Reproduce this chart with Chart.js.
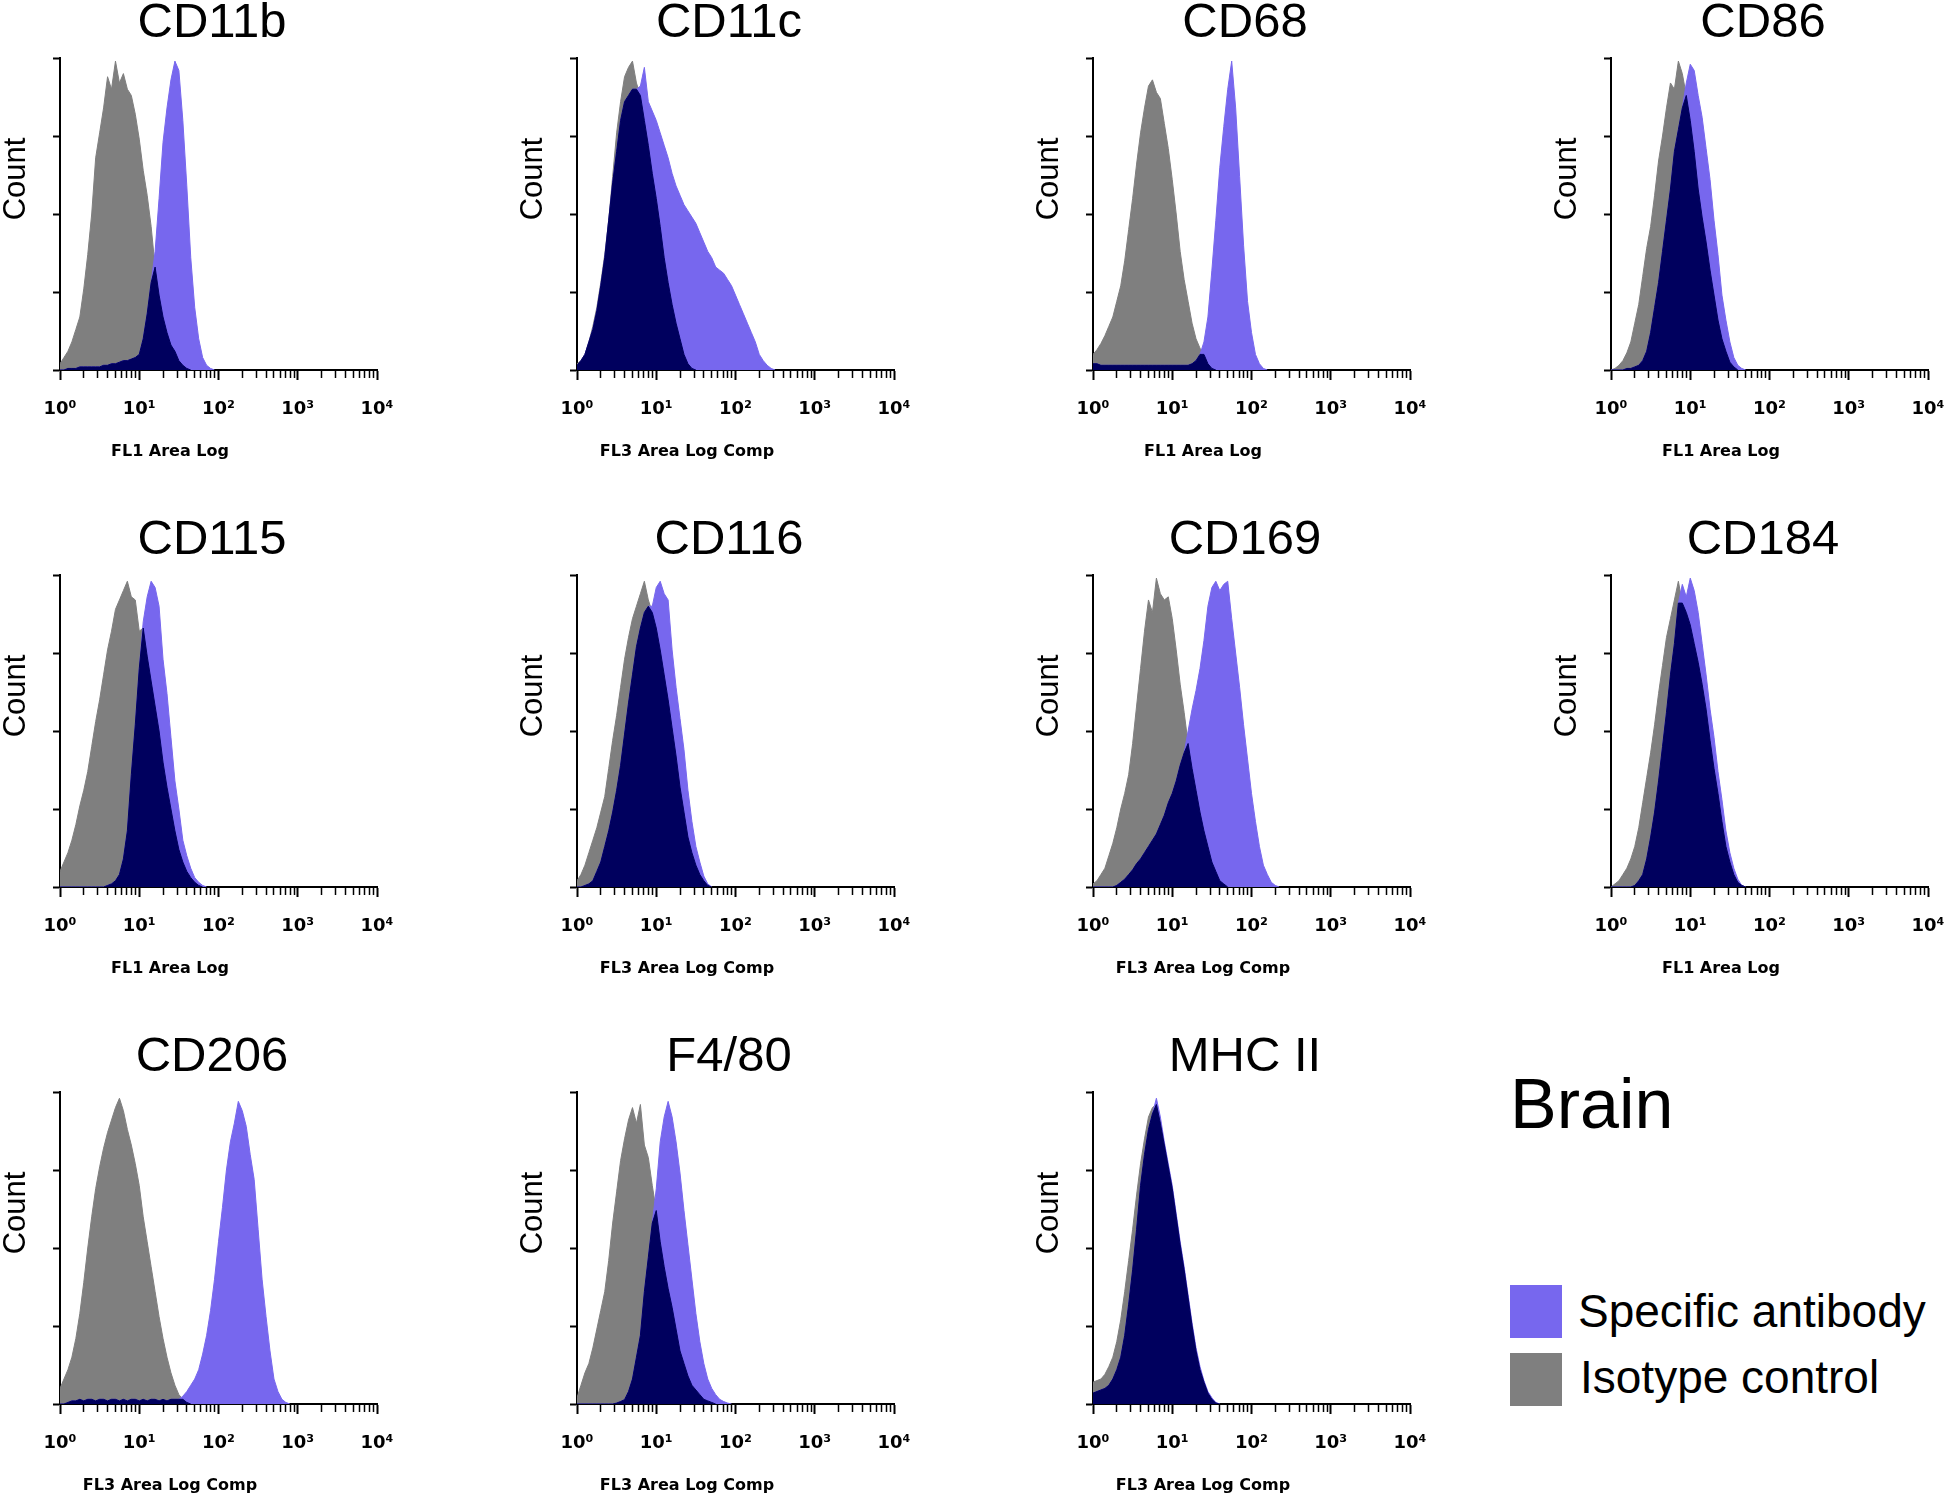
<!DOCTYPE html>
<html>
<head>
    <script src="https://cdn.jsdelivr.net/npm/chart.js@4.4.1/dist/chart.umd.min.js"></script>
    <style>
        body { margin: 0; background: #fff; width: 1946px; height: 1498px; position: relative; overflow: hidden; }
        .panel { position: absolute; width: 407px; height: 470px; }
        .txt { position: absolute; font-family: "Liberation Sans", Arial, sans-serif; color: #000; white-space: nowrap; }
        .swatch { position: absolute; width: 52px; height: 53px; }
    </style>
</head>
<body>

    <div class="txt" style="left:1510px; top:1069px; font-size:70px; line-height:70px;">Brain</div>
    <div class="swatch" style="left:1510px; top:1285px; background:#7767ee;"></div>
    <div class="swatch" style="left:1510px; top:1353px; background:#7f7f7f;"></div>
    <div class="txt" style="left:1578px; top:1288px; font-size:46px; line-height:46px;">Specific antibody</div>
    <div class="txt" style="left:1580px; top:1354px; font-size:46px; line-height:46px;">Isotype control</div>

    <script type="text/javascript">
        // histogram bins are 0.05 decade wide, starting at 10^0
        const binStep = 0.05;
        const xTickLabels = ['10\u2070', '10\u00b9', '10\u00b2', '10\u00b3', '10\u2074'];

        // counts in % of the panel max
        const cd11bIso  = [2,4,6,9,13,17,26,37,50,68,76,84,94,90,99,92,95,90,88,82,74,64,56,46,33,24,17,12,8,6,3,1.5,0.5,0];
        const cd11bSpec = [0,0,0.5,0.5,0.5,1,1,1,1,1,1,1.5,1.5,2,2,2.5,3,3,3.5,4,5,10,18,28,38,55,73,84,93,99,96,80,59,36,20,10,4,1.5,0.5,0];

        const cd11cIso  = [2,3,5,9,14,20,28,37,48,62,76,86,94,97,99,92,88,80,72,63,55,46,36,28,21,15,10,5,2,0.5,0];
        const cd11cSpec = [1.5,3,5,9,13,19,27,36,48,60,70,80,86,88,90,90,91,97,86,83,80,76,72,68,63,59,56,53,51,49,47,44,41,38,36,33,32,31,29,27,24,21,18,15,12,9,5,3,1.5,0.5,0];

        const cd68Iso   = [5,6.5,8.5,11,14,17,22,27,35,45,55,66,76,84,91,93,89,87,79,71,61,50,38,29,22,15,10,7,5,2,0.5,0];
        const cd68Spec  = [2,2,1.5,1.5,1.5,1.5,1.5,1.5,1.5,1.5,1.5,1.5,1.5,1.5,1.5,1.5,1.5,1.5,1.5,1.5,1.5,1.5,1.5,1.5,1.5,2,3,5,9,17,32,48,65,78,90,99,84,62,40,22,12,5,2,0.5,0];

        const cd86Iso   = [0,0.5,1.5,3,5.5,9,15,21,30,39,46,56,67,75,84,92,90,99,95,88,80,70,58,49,41,32,24,16,10,6,2.5,1,0];
        const cd86Spec  = [0,0,0,0,0.5,0.5,1,1.5,3,6,12,20,28,38,48,58,70,77,84,92,98,96,88,81,71,61,48,37,24,16,9,4,1.5,0.5,0];

        const cd115Iso  = [5,8,11,15,20,26,31,37,45,53,60,68,76,82,89,92,95,98,93,92,82,83,74,66,58,50,40,32,25,18,12,8,5,3,1.5,0.5,0];
        const cd115Spec = [0,0,0,0,0,0,0,0,0,0,0,0,0.5,1,2,4,9,18,36,52,70,85,93,98,96,90,73,62,48,34,25,15,10,6,3,1.5,0.5,0];

        const cd116Iso  = [2,4,7,11,15,19,24,29,38,47,55,64,73,80,86,90,94,98,92,88,83,76,68,60,51,42,32,24,16,11,7,4,2,0.5,0];
        const cd116Spec = [0,0,0.5,1,2,5,8,13,18,24,31,39,49,59,68,77,83,88,90,90,96,98,94,92,76,64,54,44,31,21,13,8,3.5,1,0];

        const cd169Iso  = [1,2,4,6,10,14,19,25,30,36,46,58,70,82,92,88,99,94,92,93,86,76,65,56,46,38,31,24,18,13,8,5,2,1,0];
        const cd169Spec = [0,0,0,0,0,0,0.5,1.5,2.5,4,5.5,7.5,9,11,13,15,17,20,23,27,30,34,39,43,50,57,63,70,79,90,96,98,95,97,98,86,75,64,52,41,30,21,13,7,4,1.5,0.5,0];

        const cd184Iso  = [0,1,2,4,6,9,13,19,27,35,43,52,62,71,80,86,92,98,91,88,84,78,72,65,57,47,38,30,21,13,8,4,1.5,0.5,0];
        const cd184Spec = [0,0,0,0,0,0,0.5,2,4,9,16,24,34,45,56,68,78,91,97,93,99,95,88,78,68,57,48,37,28,18,11,6,2.5,0.5,0];

        const cd206Iso  = [5,8,11,15,21,29,39,50,60,69,76,82,87,91,95,98,94,88,83,77,70,60,52,44,36,28,21,15,10,6,3,1.5,0.5,0];
        const cd206Spec = [0,0,0.5,1,1,1.5,1,1.5,1.5,1,1.5,1.5,1,1.5,1.5,1,1.5,1,1.5,1.5,1,1.5,1,1.5,1.5,1,1.5,1,1.5,1.5,1.5,2.5,4,6,8,11,16,22,30,40,52,63,75,84,90,97,94,89,80,72,56,40,28,17,8,4,1.5,0.5,0];

        const f480Iso   = [2,6,10,13,18,24,30,36,46,58,68,78,85,91,95,90,96,83,79,70,62,52,44,37,31,24,17,13,9,6,4.5,3,1.5,1,0.5,0];
        const f480Spec  = [0,0,0,0,0,0,0,0,0,0,0.3,0.8,1.4,4,8,15,22,36,47,58,69,84,92,97,92,84,74,62,51,40,29,20,13,8,5,3,1.5,0.8,0.3,0];

        const mhc2Iso   = [7,7.5,8,9.5,12,15,20,27,36,46,56,67,77,85,92,95,96,90,83,76,69,60,51,43,34,25,17,11,7,3.5,1.5,0.3,0];
        const mhc2Spec  = [3.5,4,4.5,5,6,8,11,15,22,32,43,56,70,80,88,93,98,92,84,77,70,61,52,44,35,26,18,12,7.5,4,2,0.5,0];

        const panels = [
            { title: 'CD11b',  xLabel: 'FL1 Area Log',      iso: cd11bIso, spec: cd11bSpec, col: 0, row: 0 },
            { title: 'CD11c',  xLabel: 'FL3 Area Log Comp', iso: cd11cIso, spec: cd11cSpec, col: 1, row: 0 },
            { title: 'CD68',   xLabel: 'FL1 Area Log',      iso: cd68Iso,  spec: cd68Spec,  col: 2, row: 0 },
            { title: 'CD86',   xLabel: 'FL1 Area Log',      iso: cd86Iso,  spec: cd86Spec,  col: 3, row: 0 },
            { title: 'CD115',  xLabel: 'FL1 Area Log',      iso: cd115Iso, spec: cd115Spec, col: 0, row: 1 },
            { title: 'CD116',  xLabel: 'FL3 Area Log Comp', iso: cd116Iso, spec: cd116Spec, col: 1, row: 1 },
            { title: 'CD169',  xLabel: 'FL3 Area Log Comp', iso: cd169Iso, spec: cd169Spec, col: 2, row: 1 },
            { title: 'CD184',  xLabel: 'FL1 Area Log',      iso: cd184Iso, spec: cd184Spec, col: 3, row: 1 },
            { title: 'CD206',  xLabel: 'FL3 Area Log Comp', iso: cd206Iso, spec: cd206Spec, col: 0, row: 2 },
            { title: 'F4/80',  xLabel: 'FL3 Area Log Comp', iso: f480Iso,  spec: f480Spec,  col: 1, row: 2 },
            { title: 'MHC II', xLabel: 'FL3 Area Log Comp', iso: mhc2Iso,  spec: mhc2Spec,  col: 2, row: 2 }
        ];

        const colAxisX = [60, 577, 1093, 1611];
        const rowTop = [58, 575, 1092];

        const specColor = '#7767ee';
        const isoColor = '#7f7f7f';
        const bothColor = '#00005e';

        // minor ticks at 2..9 of every decade
        const xTickValues = [];
        for (let e = 0; e < 4; e++) {
            for (let m = 1; m < 10; m++) xTickValues.push(m * Math.pow(10, e));
        }
        xTickValues.push(10000);

        function isDecade(v) {
            const l = Math.log10(v);
            return Math.abs(l - Math.round(l)) < 1e-9;
        }

        function toPoints(vals) {
            return vals.map((v, i) => ({ x: Math.pow(10, i * binStep), y: v }));
        }

        // where both histograms overlap the plot shows navy
        function overlap(a, b) {
            const n = Math.min(a.length, b.length);
            const out = [];
            for (let i = 0; i < n; i++) out.push(Math.min(a[i], b[i]));
            return out;
        }

        const panelText = {
            id: 'panelText',
            afterDraw(chart, args, opts) {
                const ctx = chart.ctx;
                const a = chart.chartArea;
                ctx.save();
                ctx.fillStyle = '#000';
                ctx.textAlign = 'center';
                ctx.textBaseline = 'middle';
                ctx.font = '49px "Liberation Sans", Arial, sans-serif';
                ctx.fillText(opts.title, a.left + 152, a.top - 35);
                ctx.font = 'bold 16px "DejaVu Sans", Verdana, sans-serif';
                ctx.fillText(opts.xLabel, a.left + 110, a.bottom + 82);
                ctx.translate(a.left - 44, a.top + 121);
                ctx.rotate(-Math.PI / 2);
                ctx.font = '31px "Liberation Sans", Arial, sans-serif';
                ctx.fillText('Count', 0, 0);
                ctx.restore();
            }
        };

        function makeDataset(vals, color, order) {
            return {
                data: toPoints(vals),
                backgroundColor: color,
                borderColor: color,
                borderWidth: 1,
                pointRadius: 0,
                tension: 0,
                fill: 'origin',
                order: order
            };
        }

        panels.forEach(p => {
            const div = document.createElement('div');
            div.className = 'panel';
            div.style.left = (colAxisX[p.col] - 60) + 'px';
            div.style.top = (rowTop[p.row] - 58) + 'px';
            const canvas = document.createElement('canvas');
            canvas.width = 407;
            canvas.height = 470;
            div.appendChild(canvas);
            document.body.appendChild(div);

            new Chart(canvas, {
                type: 'line',
                data: {
                    datasets: [
                        makeDataset(overlap(p.iso, p.spec), bothColor, 0),
                        makeDataset(p.spec, specColor, 1),
                        makeDataset(p.iso, isoColor, 2)
                    ]
                },
                options: {
                    responsive: false,
                    animation: false,
                    devicePixelRatio: 1,
                    layout: { padding: { top: 58, right: 30, left: 0, bottom: 0 } },
                    plugins: {
                        legend: { display: false },
                        tooltip: { enabled: false },
                        panelText: { title: p.title, xLabel: p.xLabel }
                    },
                    scales: {
                        x: {
                            type: 'logarithmic',
                            min: 1,
                            max: 10000,
                            afterFit: s => { s.height = 100; s.paddingLeft = 0; s.paddingRight = 0; },
                            afterBuildTicks: s => { s.ticks = xTickValues.map(v => ({ value: v, major: isDecade(v) })); },
                            border: { color: '#000', width: 2 },
                            grid: {
                                drawOnChartArea: false,
                                tickLength: 10,
                                tickColor: '#000',
                                tickWidth: ctx => isDecade(ctx.tick.value) ? 2 : 1.5,
                                tickBorderDash: ctx => isDecade(ctx.tick.value) ? [] : [7, 40]
                            },
                            ticks: {
                                autoSkip: false,
                                maxRotation: 0,
                                padding: 19,
                                color: '#000',
                                font: { family: '"DejaVu Sans", Verdana, sans-serif', size: 18, weight: 'bold' },
                                callback: v => isDecade(v) ? xTickLabels[Math.round(Math.log10(v))] : ''
                            }
                        },
                        y: {
                            min: 0,
                            max: 100,
                            afterFit: s => { s.width = 60; },
                            border: { color: '#000', width: 2 },
                            grid: { drawOnChartArea: false, tickLength: 7, tickColor: '#000', tickWidth: 2 },
                            ticks: { display: false, stepSize: 25 }
                        }
                    }
                },
                plugins: [panelText]
            });
        });
    </script>
</body>
</html>
